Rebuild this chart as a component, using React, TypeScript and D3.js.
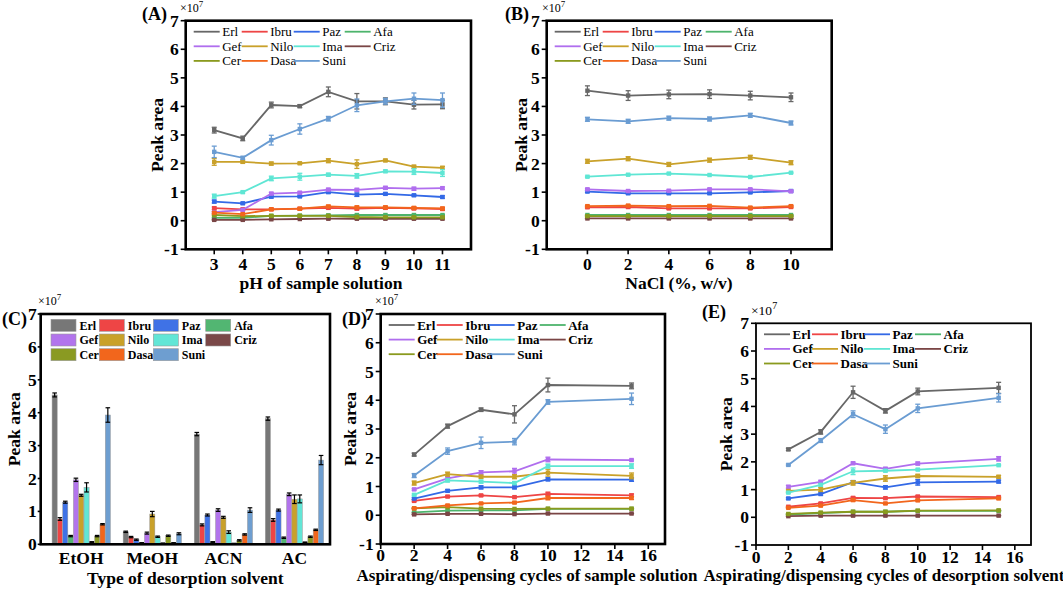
import React from "react";
import * as d3 from "d3";

const FONT = "'Liberation Serif','Times New Roman',Times,serif";

// ---------- shared ----------
const drugs = ["Erl", "Ibru", "Paz", "Afa", "Gef", "Nilo", "Ima", "Criz", "Cer", "Dasa", "Suni"];
const lineColors = ["#676767", "#EE4545", "#3369E6", "#4DB46C", "#B06EEE", "#C9A12A", "#5FE6D4", "#7A4545", "#8A9A1E", "#F2661C", "#6A9CD2"];
const barColors = ["#777777", "#EE4545", "#3F72E6", "#52B672", "#B274EC", "#C9A12A", "#62E6D6", "#7A4848", "#8A9A22", "#F2661C", "#6E9ED0"];
const yTicksLine = [-1, 0, 1, 2, 3, 4, 5, 6, 7];
const yTicksBar = [0, 1, 2, 3, 4, 5, 6, 7];

// ---------- (A) pH of sample solution ----------
const phLevels = [3, 4, 5, 6, 7, 8, 9, 10, 11];
const phValues = [
  [3.17, 2.88, 4.05, 4.01, 4.51, 4.18, 4.18, 4.06, 4.07],
  [0.44, 0.40, 0.40, 0.42, 0.45, 0.42, 0.45, 0.43, 0.41],
  [0.67, 0.61, 0.84, 0.85, 1.00, 0.91, 0.94, 0.89, 0.83],
  [0.10, 0.10, 0.17, 0.18, 0.19, 0.20, 0.20, 0.20, 0.20],
  [0.30, 0.38, 0.95, 0.98, 1.09, 1.08, 1.15, 1.12, 1.14],
  [2.06, 2.06, 2.00, 2.01, 2.10, 1.98, 2.11, 1.89, 1.85],
  [0.86, 1.00, 1.48, 1.54, 1.61, 1.57, 1.73, 1.72, 1.67],
  [0.03, 0.03, 0.05, 0.06, 0.07, 0.07, 0.07, 0.07, 0.07],
  [0.20, 0.16, 0.17, 0.17, 0.17, 0.13, 0.12, 0.12, 0.12],
  [0.28, 0.23, 0.40, 0.42, 0.50, 0.47, 0.47, 0.45, 0.43],
  [2.41, 2.20, 2.82, 3.21, 3.57, 4.04, 4.18, 4.27, 4.22],
];
const phErrors = [
  [0.10, 0.08, 0.10, 0.05, 0.17, 0.27, 0.12, 0.15, 0.15],
  [0.04, 0.03, 0.03, 0.03, 0.04, 0.04, 0.04, 0.04, 0.04],
  [0.05, 0.03, 0.04, 0.03, 0.04, 0.06, 0.04, 0.03, 0.04],
  [0.02, 0.02, 0.02, 0.02, 0.02, 0.02, 0.02, 0.02, 0.02],
  [0.03, 0.03, 0.04, 0.04, 0.04, 0.05, 0.05, 0.05, 0.04],
  [0.12, 0.04, 0.05, 0.03, 0.07, 0.15, 0.04, 0.05, 0.05],
  [0.07, 0.03, 0.08, 0.12, 0.05, 0.08, 0.04, 0.10, 0.12],
  [0.01, 0.01, 0.01, 0.01, 0.01, 0.01, 0.01, 0.01, 0.01],
  [0.02, 0.02, 0.02, 0.02, 0.02, 0.02, 0.02, 0.02, 0.02],
  [0.03, 0.03, 0.03, 0.03, 0.04, 0.04, 0.04, 0.04, 0.04],
  [0.20, 0.05, 0.17, 0.18, 0.08, 0.22, 0.10, 0.20, 0.25],
];

// ---------- (B) NaCl ----------
const naclLevels = [0, 2, 4, 6, 8, 10];
const naclValues = [
  [4.55, 4.38, 4.42, 4.43, 4.38, 4.32],
  [0.47, 0.48, 0.43, 0.43, 0.43, 0.48],
  [1.02, 0.96, 0.96, 0.96, 0.99, 1.04],
  [0.20, 0.20, 0.20, 0.20, 0.20, 0.20],
  [1.10, 1.04, 1.05, 1.10, 1.10, 1.03],
  [2.08, 2.17, 1.97, 2.12, 2.22, 2.03],
  [1.54, 1.61, 1.65, 1.60, 1.53, 1.68],
  [0.08, 0.08, 0.08, 0.08, 0.08, 0.08],
  [0.16, 0.16, 0.16, 0.16, 0.16, 0.16],
  [0.51, 0.53, 0.51, 0.52, 0.46, 0.51],
  [3.55, 3.48, 3.59, 3.56, 3.69, 3.42],
];
const naclErrors = [
  [0.17, 0.17, 0.15, 0.15, 0.15, 0.15],
  [0.03, 0.03, 0.03, 0.03, 0.03, 0.03],
  [0.03, 0.03, 0.03, 0.03, 0.03, 0.03],
  [0.01, 0.01, 0.01, 0.01, 0.01, 0.01],
  [0.03, 0.03, 0.03, 0.03, 0.03, 0.03],
  [0.07, 0.07, 0.07, 0.07, 0.07, 0.07],
  [0.02, 0.02, 0.02, 0.02, 0.02, 0.02],
  [0.01, 0.01, 0.01, 0.01, 0.01, 0.01],
  [0.01, 0.01, 0.01, 0.01, 0.01, 0.01],
  [0.03, 0.03, 0.03, 0.03, 0.03, 0.03],
  [0.07, 0.07, 0.07, 0.07, 0.07, 0.07],
];

// ---------- (C) desorption solvent ----------
const solvents = ["EtOH", "MeOH", "ACN", "AC"];
const solventValues = [
  [4.54, 0.38, 3.35, 3.82],
  [0.77, 0.22, 0.59, 0.74],
  [1.28, 0.14, 0.89, 1.04],
  [0.25, 0.04, 0.07, 0.20],
  [1.96, 0.34, 1.04, 1.52],
  [1.49, 0.92, 0.82, 1.37],
  [1.73, 0.23, 0.37, 1.38],
  [0.07, 0.03, 0.02, 0.06],
  [0.25, 0.26, 0.12, 0.23],
  [0.61, 0.04, 0.30, 0.44],
  [3.93, 0.32, 1.04, 2.56],
];
const solventErrors = [
  [0.06, 0.02, 0.05, 0.05],
  [0.04, 0.02, 0.03, 0.04],
  [0.03, 0.02, 0.03, 0.03],
  [0.02, 0.01, 0.01, 0.02],
  [0.05, 0.03, 0.04, 0.04],
  [0.03, 0.08, 0.03, 0.13],
  [0.14, 0.02, 0.04, 0.12],
  [0.01, 0.01, 0.01, 0.01],
  [0.02, 0.02, 0.02, 0.02],
  [0.02, 0.01, 0.02, 0.02],
  [0.22, 0.03, 0.07, 0.14],
];

// ---------- (D) cycles of sample solution ----------
const cycleLevels = [2, 4, 6, 8, 10, 15];
const sampleCycleValues = [
  [2.11, 3.10, 3.67, 3.51, 4.53, 4.50],
  [0.50, 0.65, 0.69, 0.63, 0.74, 0.69],
  [0.58, 0.85, 0.97, 0.97, 1.25, 1.24],
  [0.10, 0.16, 0.17, 0.17, 0.22, 0.22],
  [0.90, 1.28, 1.49, 1.53, 1.94, 1.92],
  [1.12, 1.43, 1.34, 1.34, 1.48, 1.37],
  [0.71, 1.21, 1.17, 1.12, 1.71, 1.71],
  [0.03, 0.05, 0.05, 0.04, 0.06, 0.06],
  [0.24, 0.28, 0.23, 0.22, 0.23, 0.23],
  [0.24, 0.34, 0.41, 0.44, 0.60, 0.60],
  [1.38, 2.23, 2.52, 2.56, 3.94, 4.05],
];
const sampleCycleErrors = [
  [0.05, 0.07, 0.06, 0.30, 0.24, 0.10],
  [0.03, 0.03, 0.03, 0.03, 0.06, 0.05],
  [0.03, 0.04, 0.05, 0.05, 0.05, 0.06],
  [0.01, 0.01, 0.01, 0.01, 0.01, 0.01],
  [0.03, 0.05, 0.06, 0.10, 0.08, 0.03],
  [0.07, 0.07, 0.05, 0.07, 0.12, 0.10],
  [0.03, 0.05, 0.05, 0.05, 0.07, 0.08],
  [0.01, 0.01, 0.01, 0.01, 0.01, 0.01],
  [0.01, 0.01, 0.01, 0.01, 0.01, 0.01],
  [0.02, 0.03, 0.03, 0.03, 0.06, 0.05],
  [0.07, 0.11, 0.20, 0.11, 0.08, 0.20],
];

// ---------- (E) cycles of desorption solvent ----------
const solventCycleValues = [
  [2.45, 3.08, 4.51, 3.84, 4.54, 4.67],
  [0.38, 0.50, 0.70, 0.69, 0.75, 0.73],
  [0.68, 0.84, 1.27, 1.08, 1.26, 1.29],
  [0.10, 0.15, 0.20, 0.20, 0.23, 0.23],
  [1.10, 1.28, 1.95, 1.75, 1.94, 2.11],
  [0.95, 1.00, 1.24, 1.40, 1.49, 1.46],
  [0.89, 1.17, 1.66, 1.68, 1.72, 1.88],
  [0.04, 0.06, 0.06, 0.06, 0.06, 0.06],
  [0.12, 0.17, 0.20, 0.20, 0.24, 0.25],
  [0.34, 0.42, 0.62, 0.50, 0.61, 0.68],
  [1.89, 2.77, 3.72, 3.18, 3.93, 4.31],
];
const solventCycleErrors = [
  [0.04, 0.08, 0.22, 0.08, 0.12, 0.20],
  [0.02, 0.03, 0.04, 0.03, 0.03, 0.03],
  [0.03, 0.04, 0.05, 0.06, 0.10, 0.05],
  [0.01, 0.01, 0.01, 0.01, 0.01, 0.01],
  [0.05, 0.05, 0.04, 0.05, 0.05, 0.08],
  [0.04, 0.07, 0.08, 0.10, 0.06, 0.05],
  [0.02, 0.04, 0.12, 0.04, 0.02, 0.02],
  [0.01, 0.01, 0.01, 0.01, 0.01, 0.01],
  [0.01, 0.01, 0.01, 0.01, 0.01, 0.01],
  [0.02, 0.03, 0.04, 0.03, 0.03, 0.03],
  [0.03, 0.07, 0.12, 0.15, 0.15, 0.15],
];

// ---------- layout (positions only) ----------
type Box = { l: number; t: number; r: number; b: number };
type LinePanelCfg = {
  letter: string; letterX: number; letterY: number;
  expX: number; expY: number; expSize: number;
  box: Box; xDomain: [number, number]; xTicks: number[];
  xs: number[]; values: number[][]; errors: number[][];
  xLabel: string; xLabelX: number; xLabelY: number; xLabelSize: number; xTickY: number;
  yLabelX: number; legendBold: boolean; frame: number;
};

const legendCols = [8, 56, 108, 159];

function Exp({ x, y, size }: { x: number; y: number; size: number }) {
  return (
    <text x={x} y={y} fontFamily={FONT} fontSize={size}>
      ×10<tspan dy={-size * 0.45} fontSize={size * 0.75}>7</tspan>
    </text>
  );
}

function LinePanel({ c }: { c: LinePanelCfg }) {
  const { box } = c;
  const x = d3.scaleLinear().domain(c.xDomain).range([box.l, box.r]);
  const y = d3.scaleLinear().domain([-1, 7]).range([box.b, box.t]);
  const line = d3.line<number>().x((_, i) => x(c.xs[i])).y((d) => y(d));
  const cy = (box.t + box.b) / 2;
  return (
    <g>
      <text x={c.letterX} y={c.letterY} fontFamily={FONT} fontWeight="bold" fontSize={18}>{c.letter}</text>
      <Exp x={c.expX} y={c.expY} size={c.expSize} />
      {c.values.map((vals, si) => {
        const col = lineColors[si];
        return (
          <g key={si}>
            <path d={line(vals) || ""} fill="none" stroke={col} strokeWidth={1.8} />
            {vals.map((v, i) => {
              const e = c.errors[si][i];
              const px = x(c.xs[i]);
              return (
                <g key={i}>
                  <line x1={px} x2={px} y1={y(v - e)} y2={y(v + e)} stroke={col} strokeWidth={1.3} />
                  <line x1={px - 2.5} x2={px + 2.5} y1={y(v - e)} y2={y(v - e)} stroke={col} strokeWidth={1.3} />
                  <line x1={px - 2.5} x2={px + 2.5} y1={y(v + e)} y2={y(v + e)} stroke={col} strokeWidth={1.3} />
                  <rect x={px - 2.2} y={y(v) - 2.2} width={4.4} height={4.4} fill={col} />
                </g>
              );
            })}
          </g>
        );
      })}
      {drugs.map((d, i) => {
        const row = Math.floor(i / 4);
        const col = i % 4;
        const lx = box.l + legendCols[col];
        const ly = box.t + 11 + row * 14.6;
        return (
          <g key={d}>
            <line x1={lx} x2={lx + 26} y1={ly} y2={ly} stroke={lineColors[i]} strokeWidth={1.8} />
            <text x={lx + 28.5} y={ly + 4.5} fontFamily={FONT} fontSize={13} fontWeight={c.legendBold ? "bold" : "normal"}>{d}</text>
          </g>
        );
      })}
      <rect x={box.l} y={box.t} width={box.r - box.l} height={box.b - box.t} fill="none" stroke="#000" strokeWidth={c.frame} />
      {yTicksLine.map((t) => (
        <g key={"y" + t}>
          <line x1={box.l - 5} x2={box.l} y1={y(t)} y2={y(t)} stroke="#000" strokeWidth={1.6} />
          <text x={box.l - 7} y={y(t) + 6} textAnchor="end" fontFamily={FONT} fontWeight="bold" fontSize={17.5}>{t}</text>
        </g>
      ))}
      {c.xTicks.map((t) => (
        <g key={"x" + t}>
          <line x1={x(t)} x2={x(t)} y1={box.b} y2={box.b + 5} stroke="#000" strokeWidth={1.6} />
          <text x={x(t)} y={c.xTickY} textAnchor="middle" fontFamily={FONT} fontWeight="bold" fontSize={17.5}>{t}</text>
        </g>
      ))}
      <text x={c.xLabelX} y={c.xLabelY} textAnchor="middle" fontFamily={FONT} fontWeight="bold" fontSize={c.xLabelSize}>{c.xLabel}</text>
      <text transform={`translate(${c.yLabelX},${cy}) rotate(-90)`} textAnchor="middle" fontFamily={FONT} fontWeight="bold" fontSize={17.5}>Peak area</text>
    </g>
  );
}

function BarPanel() {
  const box: Box = { l: 40.7, t: 314, r: 330, b: 544.3 };
  const y = d3.scaleLinear().domain([0, 7]).range([box.b, box.t]);
  const outer = d3.scaleBand<string>().domain(solvents).range([box.l + 5, box.r]).padding(0);
  const groupW = 58.3;
  const inner = d3.scaleBand<string>().domain(drugs).range([0, groupW]).paddingInner(0.04);
  const cy = (box.t + box.b) / 2;
  const cx = (box.l + box.r) / 2;
  return (
    <g>
      <text x={2} y={325} fontFamily={FONT} fontWeight="bold" fontSize={18}>(C)</text>
      <Exp x={38} y={305} size={12} />
      {solvents.map((s, ci) => {
        const g0 = (outer(s) || 0) + (outer.bandwidth() - groupW) / 2;
        return (
          <g key={s}>
            {drugs.map((d, di) => {
              const v = solventValues[di][ci];
              const e = solventErrors[di][ci];
              const bx = g0 + (inner(d) || 0);
              const bw = inner.bandwidth();
              const mx = bx + bw / 2;
              return (
                <g key={d}>
                  <rect x={bx} y={y(v)} width={bw} height={y(0) - y(v)} fill={barColors[di]} stroke="#9a9a9a" strokeWidth={0.5} />
                  <line x1={mx} x2={mx} y1={y(v - e)} y2={y(v + e)} stroke="#000" strokeWidth={1.2} />
                  <line x1={mx - 2.3} x2={mx + 2.3} y1={y(v + e)} y2={y(v + e)} stroke="#000" strokeWidth={1.2} />
                  <line x1={mx - 2.3} x2={mx + 2.3} y1={y(v - e)} y2={y(v - e)} stroke="#000" strokeWidth={1.2} />
                </g>
              );
            })}
            <text x={(outer(s) || 0) + outer.bandwidth() / 2} y={564} textAnchor="middle" fontFamily={FONT} fontWeight="bold" fontSize={17.5}>{s}</text>
          </g>
        );
      })}
      {drugs.map((d, i) => {
        const row = Math.floor(i / 4);
        const col = i % 4;
        const lx = box.l + [10.3, 58.6, 112.6, 165][col];
        const ly = box.t + 11.3 + row * 14.7;
        return (
          <g key={d}>
            <rect x={lx} y={ly - 6} width={25} height={12} fill={barColors[i]} stroke="#9a9a9a" strokeWidth={0.6} />
            <text x={lx + 28.5} y={ly + 4.3} fontFamily={FONT} fontWeight="bold" fontSize={12}>{d}</text>
          </g>
        );
      })}
      <rect x={box.l} y={box.t} width={box.r - box.l} height={box.b - box.t} fill="none" stroke="#000" strokeWidth={2.6} />
      {yTicksBar.map((t) => (
        <g key={t}>
          <line x1={box.l - 3} x2={box.l} y1={y(t)} y2={y(t)} stroke="#000" strokeWidth={1.6} />
          <text x={box.l - 4} y={y(t) + 6} textAnchor="end" fontFamily={FONT} fontWeight="bold" fontSize={17.5}>{t}</text>
        </g>
      ))}
      <text x={cx} y={584} textAnchor="middle" fontFamily={FONT} fontWeight="bold" fontSize={17.5}>Type of desorption solvent</text>
      <text transform={`translate(20,${cy}) rotate(-90)`} textAnchor="middle" fontFamily={FONT} fontWeight="bold" fontSize={17.5}>Peak area</text>
    </g>
  );
}

const panelA: LinePanelCfg = {
  letter: "(A)", letterX: 142, letterY: 20, expX: 180, expY: 12, expSize: 12,
  box: { l: 185.7, t: 20.7, r: 471, b: 249.3 }, xDomain: [2, 12], xTicks: phLevels,
  xs: phLevels, values: phValues, errors: phErrors,
  xLabel: "pH of sample solution", xLabelX: 321, xLabelY: 288.5, xLabelSize: 17.5, xTickY: 269.5, yLabelX: 163, legendBold: false, frame: 2.6,
};
const panelB: LinePanelCfg = {
  letter: "(B)", letterX: 505, letterY: 20, expX: 542, expY: 12, expSize: 12,
  box: { l: 546.7, t: 20.7, r: 831.7, b: 249.3 }, xDomain: [-2, 12], xTicks: naclLevels,
  xs: naclLevels, values: naclValues, errors: naclErrors,
  xLabel: "NaCl (%, w/v)", xLabelX: 679, xLabelY: 288.5, xLabelSize: 17.5, xTickY: 269.5, yLabelX: 527, legendBold: false, frame: 2.6,
};
const panelD: LinePanelCfg = {
  letter: "(D)", letterX: 342, letterY: 325, expX: 375, expY: 305, expSize: 12,
  box: { l: 380.7, t: 314, r: 665, b: 544 }, xDomain: [0, 17], xTicks: [0, 2, 4, 6, 8, 10, 12, 14, 16],
  xs: cycleLevels, values: sampleCycleValues, errors: sampleCycleErrors,
  xLabel: "Aspirating/dispensing cycles of sample solution", xLabelX: 527, xLabelY: 581, xLabelSize: 17, xTickY: 561, yLabelX: 356, legendBold: true, frame: 2.6,
};
const panelE: LinePanelCfg = {
  letter: "(E)", letterX: 702, letterY: 318, expX: 751, expY: 315, expSize: 13.5,
  box: { l: 756, t: 323.3, r: 1031, b: 545 }, xDomain: [0, 17], xTicks: [0, 2, 4, 6, 8, 10, 12, 14, 16],
  xs: cycleLevels, values: solventCycleValues, errors: solventCycleErrors,
  xLabel: "Aspirating/dispensing cycles of desorption solvent", xLabelX: 884, xLabelY: 581, xLabelSize: 17, xTickY: 563, yLabelX: 732, legendBold: true, frame: 1.8,
};

export default function App() {
  return (
    <svg width={1063} height={590} style={{ position: "absolute", left: 0, top: 0, background: "#fff" }}>
      <rect x={0} y={0} width={1063} height={590} fill="#fff" />
      <LinePanel c={panelA} />
      <LinePanel c={panelB} />
      <BarPanel />
      <LinePanel c={panelD} />
      <LinePanel c={panelE} />
    </svg>
  );
}
